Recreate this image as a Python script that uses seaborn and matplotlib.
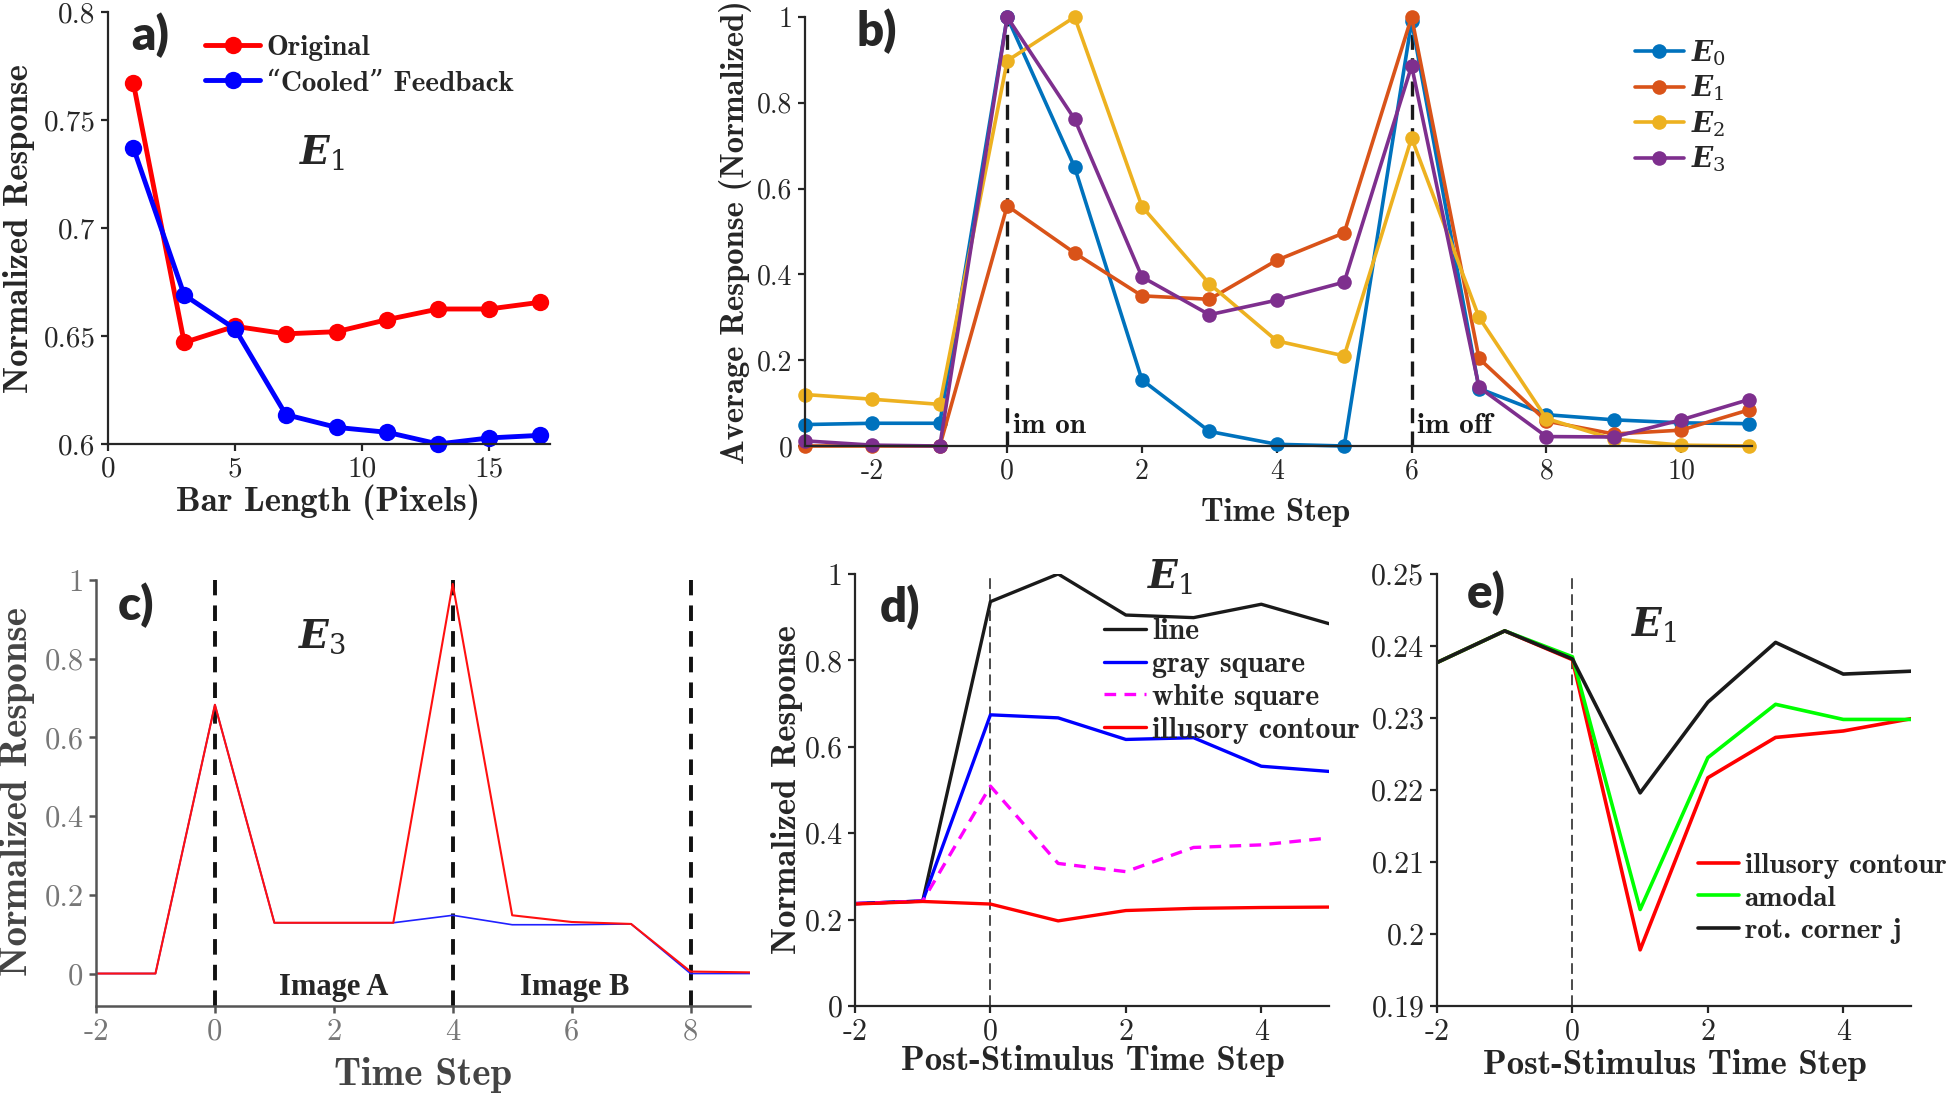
import matplotlib
matplotlib.use("Agg")
import matplotlib.pyplot as plt
from matplotlib.ticker import FuncFormatter
import seaborn as sns

# ---- data ----
# a) bar length tuning
bar_length = [1, 3, 5, 7, 9, 11, 13, 15, 17]
original = [0.767, 0.647, 0.6545, 0.651, 0.652, 0.6576, 0.6625, 0.6625, 0.6656]
cooled = [0.737, 0.669, 0.6533, 0.6136, 0.6077, 0.6054, 0.600, 0.6028, 0.604]

# b) average response per layer
time_b = list(range(-3, 12))
e0 = [0.050, 0.053, 0.053, 1.0, 0.65, 0.154, 0.034, 0.004, 0.0, 0.99, 0.134, 0.073, 0.061, 0.054, 0.052]
e1 = [0.0, 0.0, 0.0, 0.56, 0.45, 0.35, 0.342, 0.433, 0.497, 1.0, 0.204, 0.058, 0.028, 0.037, 0.084]
e2 = [0.120, 0.109, 0.097, 0.898, 1.0, 0.558, 0.378, 0.245, 0.21, 0.718, 0.30, 0.064, 0.016, 0.002, 0.0]
e3 = [0.012, 0.002, 0.0, 1.0, 0.762, 0.394, 0.306, 0.34, 0.382, 0.886, 0.137, 0.022, 0.021, 0.061, 0.108]
layer_names = ["$E_0$", "$E_1$", "$E_2$", "$E_3$"]
layer_colors = ["#0072BD", "#D95319", "#EDB120", "#7E2F8E"]

# c) E3 image A / image B
time_c = list(range(-2, 10))
e3_red = [0.0, 0.0, 0.683, 0.129, 0.129, 0.129, 0.99, 0.148, 0.131, 0.126, 0.005, 0.003]
e3_blue = [0.0, 0.0, 0.683, 0.129, 0.129, 0.129, 0.148, 0.124, 0.124, 0.126, 0.0, 0.0]

# d) E1 shapes
time_d = list(range(-2, 6))
line_resp = [0.237, 0.243, 0.936, 1.0, 0.905, 0.899, 0.93, 0.885]
gray_square = [0.237, 0.243, 0.674, 0.667, 0.617, 0.621, 0.555, 0.543]
white_square = [0.237, 0.243, 0.509, 0.33, 0.311, 0.367, 0.373, 0.389]
illusory_d = [0.236, 0.242, 0.236, 0.197, 0.221, 0.226, 0.228, 0.229]

# e) E1 illusory vs amodal
time_e = list(range(-2, 6))
illusory_e = [0.2377, 0.2421, 0.2381, 0.1978, 0.2217, 0.2273, 0.2282, 0.2299]
amodal = [0.2377, 0.2421, 0.2385, 0.2034, 0.2245, 0.2319, 0.2298, 0.2298]
rot_corner = [0.2377, 0.2421, 0.2382, 0.2196, 0.2322, 0.2405, 0.2361, 0.2365]

sns.set_theme(style="ticks")
plt.rcParams["font.family"] = ["cmr10", "DejaVu Serif"]
plt.rcParams["axes.unicode_minus"] = False
plt.rcParams["mathtext.fontset"] = "custom"
plt.rcParams["mathtext.it"] = "DejaVu Serif:italic:bold"
plt.rcParams["mathtext.rm"] = "DejaVu Serif"

W, H = 1950, 1094
fig = plt.figure(figsize=(W / 100, H / 100), dpi=100)


def rect(l, t, r, b):
    return [l / W, 1 - b / H, (r - l) / W, (b - t) / H]


def fp(x, y):
    return x / W, 1 - y / H


BOLD = ["cmb10", "DejaVu Serif"]
fmt = FuncFormatter(lambda v, p: "%g" % round(v, 4))


def style_axes(ax, size, color="#262626", tcolor="#262626", lw=1.6):
    sns.despine(ax=ax)
    for s in ["left", "bottom"]:
        ax.spines[s].set_color(color)
        ax.spines[s].set_linewidth(lw)
    ax.tick_params(direction="out", length=5, width=lw, color=color,
                   labelsize=size, labelcolor=tcolor, pad=4)
    ax.xaxis.set_major_formatter(fmt)
    ax.yaxis.set_major_formatter(fmt)


def labels(ax, xl, xpos, yl, ypos, size, color="#262626"):
    ax.set_xlabel(xl, family=BOLD, fontsize=size, color=color, va="center")
    ax.xaxis.set_label_coords(*fp(*xpos), transform=fig.transFigure)
    if yl:
        ax.set_ylabel(yl, family=BOLD, fontsize=size, color=color, va="center")
        ax.yaxis.set_label_coords(*fp(*ypos), transform=fig.transFigure)


def legend(ax, pos, size, hl, **kw):
    h, l = ax.get_legend_handles_labels()
    ax.legend(h, l, loc="upper left", bbox_to_anchor=fp(*pos),
              bbox_transform=fig.transFigure, frameon=False, borderpad=0,
              borderaxespad=0, handlelength=hl, handletextpad=0.2,
              prop={"family": BOLD, "size": size}, **kw)


# ---------- a) ----------
ax = fig.add_axes(rect(108, 12, 550, 444))
sns.lineplot(x=bar_length, y=original, ax=ax, color="#FF0000", lw=3.5, marker="o",
             ms=12.5, mec="#FF0000", mew=0, clip_on=False, label="Original")
sns.lineplot(x=bar_length, y=cooled, ax=ax, color="#0000FF", lw=3.5, marker="o",
             ms=12.5, mec="#0000FF", mew=0, clip_on=False, label="\u201cCooled\u201d Feedback")
ax.set_xlim(0, 17.4)
ax.set_ylim(0.6, 0.8)
ax.set_xticks([0, 5, 10, 15])
ax.set_yticks([0.6, 0.65, 0.7, 0.75, 0.8])
style_axes(ax, 21)
labels(ax, "Bar Length (Pixels)", (328, 502), "Normalized Response", (19, 229), 25)
legend(ax, (205, 35), 21, 1.9, labelspacing=0.3)
fig.text(*fp(322, 153), "$E_1$", fontsize=28, ha="center", va="center")

# ---------- b) ----------
ax = fig.add_axes(rect(805, 17, 1752, 446))
for vals, name, col in zip([e0, e1, e2, e3], layer_names, layer_colors):
    sns.lineplot(x=time_b, y=vals, ax=ax, color=col, lw=2.6, marker="o", ms=10.5,
                 mec=col, mew=0, clip_on=False, label=name)
ax.axvline(0, color="k", lw=2.4, ls=(0, (4.5, 2.5)), zorder=1)
ax.axvline(6, color="k", lw=2.4, ls=(0, (4.5, 2.5)), zorder=1)
ax.text(0.08, 0.03, "im on", family=BOLD, fontsize=21, color="#1a1a1a")
ax.text(6.08, 0.03, "im off", family=BOLD, fontsize=21, color="#1a1a1a")
ax.set_xlim(-3, 11.05)
ax.set_ylim(0, 1)
ax.set_xticks([-2, 0, 2, 4, 6, 8, 10])
ax.set_yticks([0, 0.2, 0.4, 0.6, 0.8, 1])
style_axes(ax, 20)
labels(ax, "Time Step", (1276, 512), "Average Response (Normalized)", (735, 232), 23.5)
h, l = ax.get_legend_handles_labels()
ax.legend(h, l, loc="upper left", bbox_to_anchor=fp(1635, 38),
          bbox_transform=fig.transFigure, frameon=False, borderpad=0,
          borderaxespad=0, handlelength=1.75, handletextpad=0.25,
          labelspacing=0.22, fontsize=20)

# ---------- c) ----------
ax = fig.add_axes(rect(96, 580, 750, 1006))
sns.lineplot(x=time_c, y=e3_blue, ax=ax, color="#2020FF", lw=1.2)
sns.lineplot(x=time_c, y=e3_red, ax=ax, color="#FF1010", lw=1.5)
for t in [0, 4, 8]:
    ax.axvline(t, color="#111111", lw=2.8, ls=(0, (4, 2.6)), zorder=1)
ax.text(2, -0.035, "Image A", family=["Liberation Serif"], weight="bold",
        fontsize=22, ha="center", va="center")
ax.text(6.05, -0.035, "Image B", family=["Liberation Serif"], weight="bold",
        fontsize=22, ha="center", va="center")
ax.set_xlim(-2, 9)
ax.set_ylim(-0.0825, 1)
ax.set_xticks([-2, 0, 2, 4, 6, 8])
ax.set_yticks([0, 0.2, 0.4, 0.6, 0.8, 1])
style_axes(ax, 22, color="#555555", tcolor="#777777", lw=1.8)
labels(ax, "Time Step", (423, 1075), "Normalized Response", (17, 791), 28, color="#444444")
fig.text(*fp(322, 637), "$E_3$", fontsize=28, ha="center", va="center")

# ---------- d) ----------
ax = fig.add_axes(rect(855, 574, 1329, 1006))
sns.lineplot(x=time_d, y=line_resp, ax=ax, color="k", lw=2.4, label="line")
sns.lineplot(x=time_d, y=gray_square, ax=ax, color="#0000FF", lw=2.4, label="gray square")
sns.lineplot(x=time_d, y=white_square, ax=ax, color="#FF00FF", lw=2.4,
             ls=(0, (3.5, 2.5)), label="white square")
sns.lineplot(x=time_d, y=illusory_d, ax=ax, color="#FF0000", lw=2.4, label="illusory contour")
ax.axvline(0, color="k", lw=1.1, ls=(0, (7, 3.5)), zorder=1)
ax.set_xlim(-2, 5)
ax.set_ylim(0, 1)
ax.set_xticks([-2, 0, 2, 4])
ax.set_yticks([0, 0.2, 0.4, 0.6, 0.8, 1])
style_axes(ax, 21.5)
labels(ax, "Post-Stimulus Time Step", (1093, 1061), "Normalized Response", (787, 790), 25)
legend(ax, (1104, 618), 21.5, 1.4, labelspacing=0.2)
fig.text(*fp(1170, 576), "$E_1$", fontsize=28, ha="center", va="center")

# ---------- e) ----------
ax = fig.add_axes(rect(1437, 574, 1911, 1006))
sns.lineplot(x=time_e, y=illusory_e, ax=ax, color="#FF0000", lw=2.6, label="illusory contour")
sns.lineplot(x=time_e, y=amodal, ax=ax, color="#00FF00", lw=2.6, label="amodal")
sns.lineplot(x=time_e, y=rot_corner, ax=ax, color="k", lw=2.6, label="rot. corner j")
ax.axvline(0, color="k", lw=1.1, ls=(0, (7, 3.5)), zorder=1)
ax.set_xlim(-2, 5)
ax.set_ylim(0.19, 0.25)
ax.set_xticks([-2, 0, 2, 4])
ax.set_yticks([0.19, 0.2, 0.21, 0.22, 0.23, 0.24, 0.25])
style_axes(ax, 21.5)
labels(ax, "Post-Stimulus Time Step", (1675, 1065), None, None, 25)
legend(ax, (1698, 853), 21, 1.4, labelspacing=0.2)
fig.text(*fp(1654, 625), "$E_1$", fontsize=28, ha="center", va="center")

# panel letters
for txt, pos in [("a)", (150, 35)), ("b)", (877, 31)), ("c)", (136, 605)),
                 ("d)", (900, 607)), ("e)", (1486, 593))]:
    fig.text(*fp(*pos), txt, family="Lato", weight="heavy", fontsize=34,
             ha="center", va="center")

fig.savefig("out.png", dpi=100)
